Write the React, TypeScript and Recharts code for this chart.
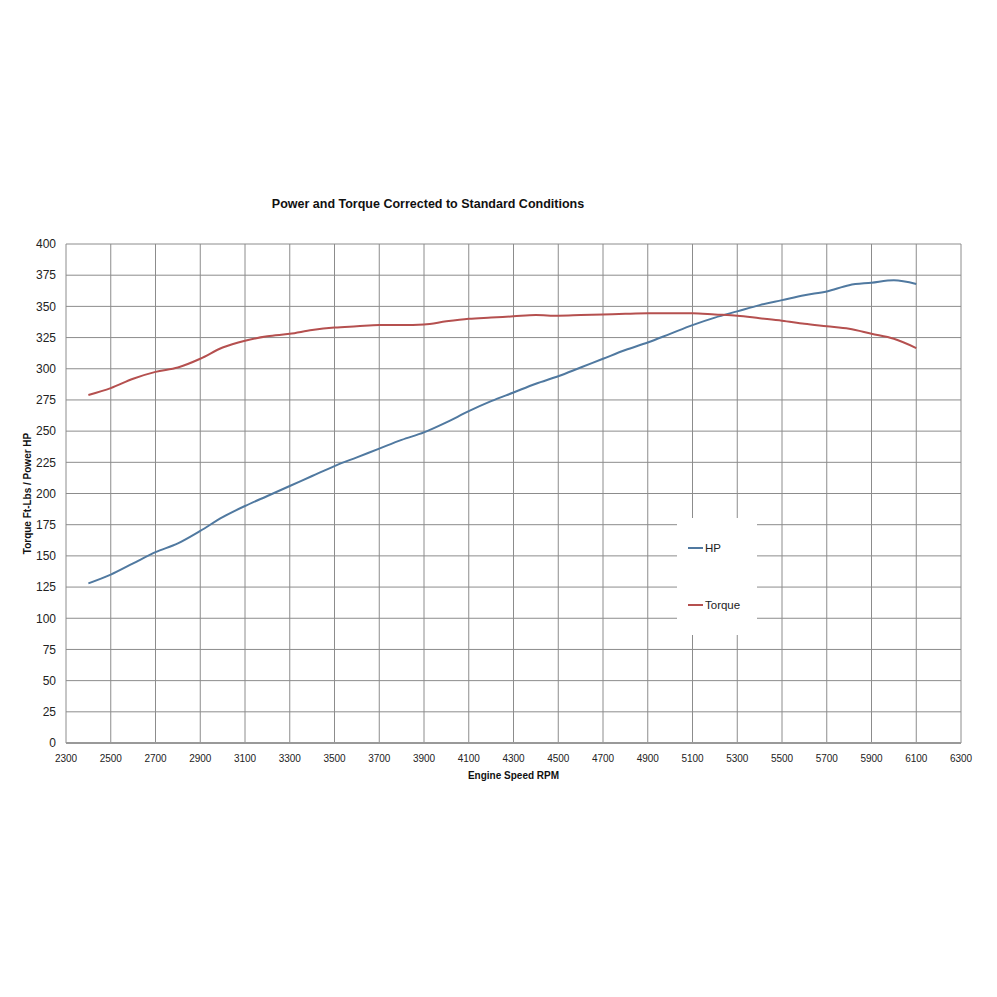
import React from 'react';
import { LineChart, Line, XAxis, YAxis, CartesianGrid, Legend, Label } from 'recharts';

const rpm = [2400, 2500, 2600, 2700, 2800, 2900, 3000, 3100, 3200, 3300, 3400, 3500, 3600, 3700, 3800, 3900, 4000, 4100, 4200, 4300, 4400, 4500, 4600, 4700, 4800, 4900, 5000, 5100, 5200, 5300, 5400, 5500, 5600, 5700, 5800, 5900, 6000, 6100];
const hp = [128, 135, 144, 153, 160, 170, 181, 190, 198, 206, 214, 222, 229, 236, 243, 249, 257, 266, 274, 281, 288, 294, 301, 308, 315, 321, 328, 335, 341, 346, 351, 355, 359, 362, 367, 369, 371, 368];
const torque = [279, 284.5, 292, 297.5, 301, 308, 317, 322.5, 326, 328, 331, 333, 334, 335, 335, 335.5, 338, 340, 341, 342, 343, 342.5, 343, 343.5, 344, 344.4, 344.5, 344.5, 343.5, 342.5, 340.5, 338.5, 336, 334, 332, 328, 324, 316.6];
const xTicks = [2300, 2500, 2700, 2900, 3100, 3300, 3500, 3700, 3900, 4100, 4300, 4500, 4700, 4900, 5100, 5300, 5500, 5700, 5900, 6100, 6300];
const yTicks = [0, 25, 50, 75, 100, 125, 150, 175, 200, 225, 250, 275, 300, 325, 350, 375, 400];

const chartTitle = 'Power and Torque Corrected to Standard Conditions';
const xTitle = 'Engine Speed RPM';
const yTitle = 'Torque Ft-Lbs / Power HP';

const data = rpm.map((r, i) => ({ rpm: r, HP: hp[i], Torque: torque[i] }));

const FONT = '"Liberation Sans", Arial, sans-serif';
const HP_COLOR = '#5079a0';
const TQ_COLOR = '#b5504f';

const LegendBox = (props: any) => {
  const payload = props.payload || [];
  return (
    <div style={{ width: 80, height: 117, background: '#fff', position: 'relative', fontFamily: FONT, fontSize: 11.5, color: '#222' }}>
      {payload.map((p: any, i: number) => (
        <div key={p.value} style={{ position: 'absolute', left: 11, top: i === 0 ? 22 : 79, display: 'flex', alignItems: 'center', height: 16 }}>
          <span style={{ display: 'inline-block', width: 15, height: 2, background: p.color, marginRight: 2 }} />
          <span>{p.value}</span>
        </div>
      ))}
    </div>
  );
};

export default function App() {
  return (
    <div style={{ position: 'absolute', left: 0, top: 0, width: 997, height: 997, background: '#fff' }}>
      <div style={{ position: 'absolute', left: 0, width: 856, top: 197, textAlign: 'center', fontFamily: FONT, fontWeight: 'bold', fontSize: 12.5, color: '#111' }}>
        {chartTitle}
      </div>
      <LineChart width={997} height={997} data={data} margin={{ top: 244, right: 36, left: 6, bottom: 234 }}>
        <CartesianGrid stroke="#8c8c8c" strokeWidth={1} horizontalValues={yTicks} verticalValues={xTicks} />
        <XAxis
          dataKey="rpm"
          type="number"
          domain={[2300, 6300]}
          ticks={xTicks}
          interval={0}
          height={20}
          tickSize={0}
          tickMargin={12}
          axisLine={{ stroke: '#999', strokeWidth: 2 }}
          tickLine={false}
          tick={{ fontFamily: FONT, fontSize: 10, fill: '#222' }}
        >
          <Label value={xTitle} position="bottom" offset={9} style={{ fontFamily: FONT, fontSize: 10, fontWeight: 'bold', fill: '#111' }} />
        </XAxis>
        <YAxis
          type="number"
          domain={[0, 400]}
          ticks={yTicks}
          interval={0}
          width={60}
          tickSize={0}
          tickMargin={10}
          axisLine={false}
          tickLine={false}
          tick={{ fontFamily: FONT, fontSize: 12, fill: '#222' }}
        >
          <Label value={yTitle} angle={-90} position="insideLeft" offset={21} style={{ textAnchor: 'middle', fontFamily: FONT, fontSize: 10, fontWeight: 'bold', fill: '#111' }} />
        </YAxis>
        <Line type="monotone" dataKey="HP" stroke={HP_COLOR} strokeWidth={2} dot={false} isAnimationActive={false} />
        <Line type="monotone" dataKey="Torque" stroke={TQ_COLOR} strokeWidth={2} dot={false} isAnimationActive={false} />
        <Legend
          layout="vertical"
          align="center"
          verticalAlign="middle"
          content={<LegendBox />}
          wrapperStyle={{ position: 'absolute', left: 677, top: 518, width: 80, height: 117 }}
        />
      </LineChart>
    </div>
  );
}
